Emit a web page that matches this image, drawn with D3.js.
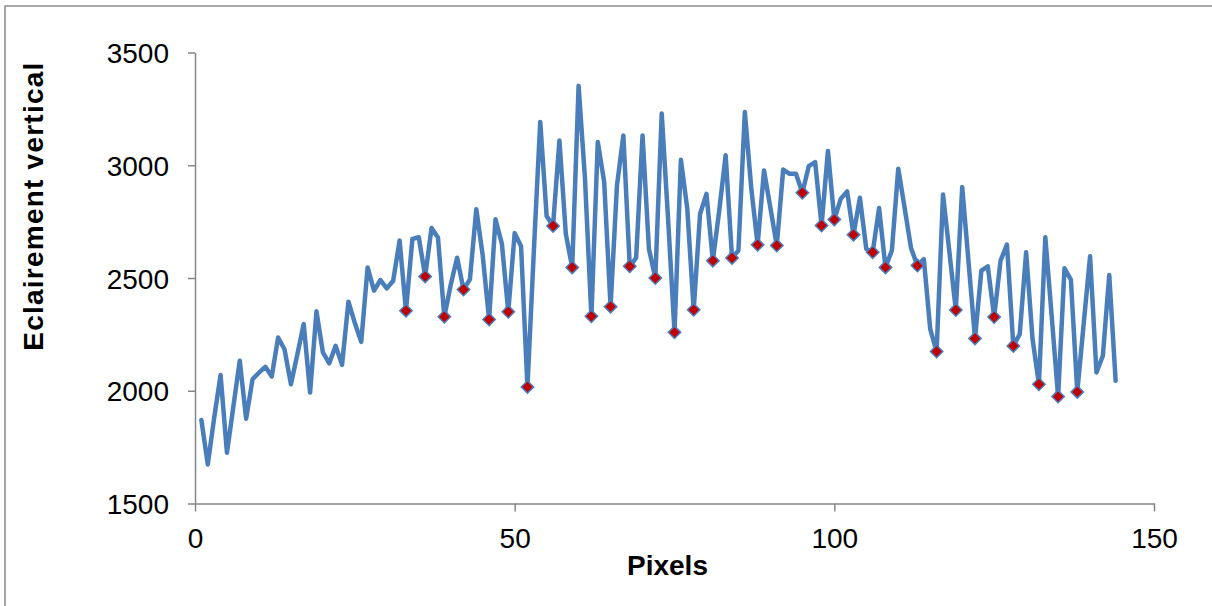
<!DOCTYPE html>
<html>
<head>
<meta charset="utf-8">
<script src="https://cdn.jsdelivr.net/npm/d3@7"></script>
<style>
  html, body { margin: 0; padding: 0; background: #fff; }
  svg { display: block; }
</style>
</head>
<body>
<svg id="chart" width="1212" height="606"></svg>
<script>
// ---- data ----
const pixels = d3.range(1, 145);
const eclairement = [
  1870, 1673, 1880, 2070, 1725, 1930, 2133, 1876, 2051, 2080,
  2106, 2063, 2236, 2184, 2029, 2160, 2296, 1992, 2352, 2170,
  2122, 2199, 2115, 2395, 2300, 2217, 2547, 2444, 2491, 2454,
  2488, 2666, 2355, 2673, 2681, 2507, 2722, 2680, 2328, 2470,
  2590, 2449, 2494, 2805, 2600, 2316, 2760, 2652, 2350, 2699,
  2641, 2017, 2620, 3192, 2775, 2731, 3110, 2696, 2547, 3352,
  2940, 2330, 3103, 2926, 2373, 2910, 3132, 2552, 2589, 3132,
  2629, 2500, 3229, 2760, 2259, 3024, 2807, 2359, 2784, 2873,
  2577, 2800, 3044, 2589, 2622, 3236, 2900, 2647, 2977, 2811,
  2644, 2981, 2962, 2962, 2878, 2996, 3014, 2733, 3063, 2759,
  2851, 2884, 2692, 2856, 2629, 2614, 2810, 2547, 2622, 2985,
  2810, 2632, 2555, 2584, 2273, 2174, 2870, 2614, 2358, 2903,
  2568, 2232, 2533, 2552, 2327, 2577, 2648, 2199, 2251, 2614,
  2230, 2029, 2681, 2330, 1974, 2543, 2493, 1995, 2296, 2596,
  2081, 2155, 2513, 2044
];
// pixels marked as minima (red diamonds)
const minimaPixels = [33, 36, 39, 42, 46, 49, 52, 56, 59, 62, 65, 68, 72, 75, 78, 81, 84,
  88, 91, 95, 98, 100, 103, 106, 108, 113, 116, 119, 122, 125, 128, 132, 135, 138];
const xTicks = [0, 50, 100, 150];
const yTicks = [1500, 2000, 2500, 3000, 3500];
const xTitle = "Pixels";
const yTitle = "Eclairement vertical";

// ---- layout ----
const svg = d3.select("#chart");
const plotLeft = 195, plotRight = 1154, plotTop = 52.5, plotBottom = 503.5;
const x = d3.scaleLinear().domain([0, 150]).range([plotLeft, plotRight]);
const y = d3.scaleLinear().domain([1500, 3500]).range([plotBottom, plotTop]);
const axisColor = "#868686";
const font = "'Liberation Sans', Arial, sans-serif";

// outer chart frame (cropped on right/bottom)
svg.append("rect")
  .attr("x", 5).attr("y", 6).attr("width", 1300).attr("height", 700)
  .attr("fill", "none").attr("stroke", "#8c8c8c").attr("stroke-width", 1.5);

// axes
const gx = svg.append("g").attr("transform", `translate(0,${plotBottom})`)
  .call(d3.axisBottom(x).tickValues(xTicks).tickFormat(d3.format("d"))
    .tickSize(8).tickPadding(17).tickSizeOuter(0));
const gy = svg.append("g").attr("transform", `translate(${plotLeft},0)`)
  .call(d3.axisLeft(y).tickValues(yTicks).tickFormat(d3.format("d"))
    .tickSize(7).tickPadding(19).tickSizeOuter(0));
[gx, gy].forEach(g => {
  g.select(".domain").attr("stroke", axisColor).attr("stroke-width", 1.5);
  g.selectAll(".tick line").attr("stroke", axisColor).attr("stroke-width", 1.5);
  g.selectAll(".tick text").attr("fill", "#000").style("font-family", font).style("font-size", "28px");
});
gx.selectAll(".tick text").attr("dy", null).attr("y", 44);
gy.selectAll(".tick text").attr("dy", "0.36em");

// line
const data = pixels.map((p, i) => ({ p, v: eclairement[i] }));
svg.append("path")
  .datum(data)
  .attr("fill", "none")
  .attr("stroke", "#4a7ebb")
  .attr("stroke-width", 4.5)
  .attr("stroke-linejoin", "round")
  .attr("stroke-linecap", "round")
  .attr("d", d3.line().x(d => x(d.p)).y(d => y(d.v)));

// diamond markers
const r = 6.2;
const minima = minimaPixels.map(p => ({ p, v: eclairement[p - 1] }));
svg.append("g").selectAll("path")
  .data(minima)
  .join("path")
  .attr("d", d => {
    const cx = x(d.p), cy = y(d.v);
    return `M${cx},${cy - r}L${cx + r},${cy}L${cx},${cy + r}L${cx - r},${cy}Z`;
  })
  .attr("fill", "#c00000")
  .attr("stroke", "#4a7ebb")
  .attr("stroke-width", 1.5);

// titles
svg.append("text")
  .attr("x", 667.5).attr("y", 575)
  .attr("text-anchor", "middle")
  .style("font-family", font).style("font-size", "28px").style("font-weight", "bold")
  .text(xTitle);
svg.append("text")
  .attr("transform", "translate(43,206.7) rotate(-90)")
  .attr("text-anchor", "middle")
  .attr("textLength", 288).attr("lengthAdjust", "spacing")
  .style("font-family", font).style("font-size", "28px").style("font-weight", "bold")
  .text(yTitle);
</script>
</body>
</html>
